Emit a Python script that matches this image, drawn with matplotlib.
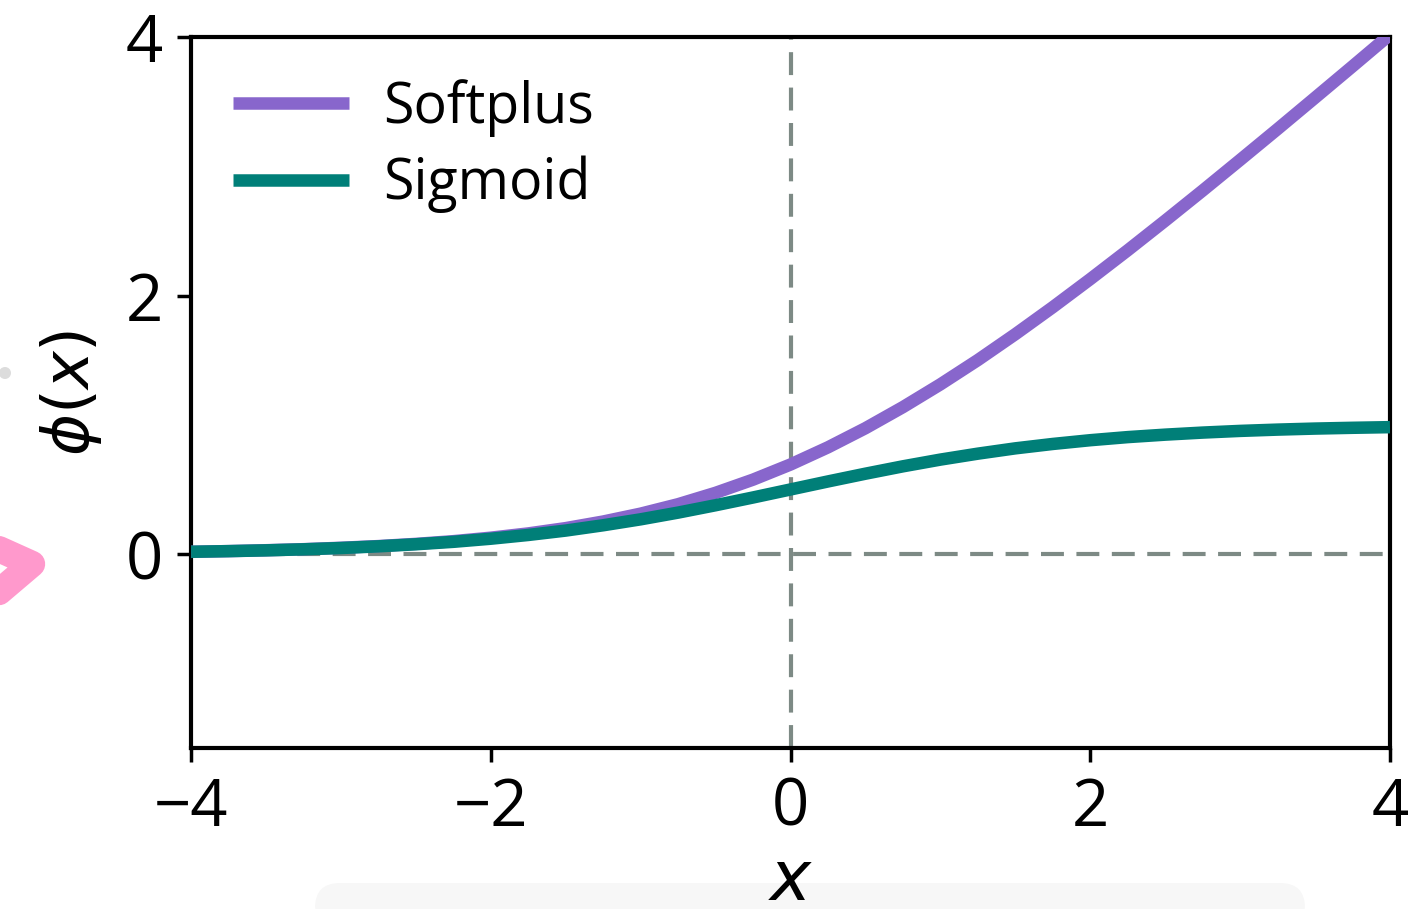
import matplotlib
matplotlib.use("Agg")
import matplotlib.pyplot as plt
from matplotlib.patches import FancyBboxPatch, Circle
from matplotlib.lines import Line2D

plt.rcParams["font.family"] = ["Open Sans", "DejaVu Sans"]
plt.rcParams["mathtext.fontset"] = "dejavusans"

# Sample points along x and the curve values read at them
x_vals = [-4.0, -3.75, -3.5, -3.25, -3.0, -2.75, -2.5, -2.25, -2.0, -1.75,
          -1.5, -1.25, -1.0, -0.75, -0.5, -0.25, 0.0, 0.25, 0.5, 0.75,
          1.0, 1.25, 1.5, 1.75, 2.0, 2.25, 2.5, 2.75, 3.0, 3.25, 3.5, 3.75, 4.0]
softplus_vals = [0.018, 0.023, 0.030, 0.038, 0.049, 0.062, 0.079, 0.100, 0.127,
                 0.160, 0.201, 0.252, 0.313, 0.386, 0.474, 0.576, 0.693, 0.826,
                 0.974, 1.137, 1.313, 1.501, 1.701, 1.910, 2.127, 2.350, 2.579,
                 2.812, 3.049, 3.288, 3.530, 3.773, 4.018]
sigmoid_vals = [0.018, 0.023, 0.029, 0.037, 0.047, 0.060, 0.076, 0.095, 0.119,
                0.148, 0.182, 0.223, 0.269, 0.321, 0.378, 0.438, 0.500, 0.562,
                0.622, 0.679, 0.731, 0.777, 0.818, 0.852, 0.881, 0.905, 0.924,
                0.940, 0.953, 0.963, 0.971, 0.977, 0.982]
series_names = ["Softplus", "Sigmoid"]
series_colors = ["#8866cc", "#007f78"]
x_ticks = [-4, -2, 0, 2, 4]
y_ticks = [0, 2, 4]

fig = plt.figure(figsize=(14.08, 9.09), dpi=100)
ax = fig.add_axes([0.1357, 0.1771, 0.8515, 0.7822])

ref_color = "#7d8a85"
dash = (0, (5.5, 3.0))
ax.axhline(0, color=ref_color, lw=3, linestyle=dash, zorder=1)
ax.axvline(0, color=ref_color, lw=3, linestyle=dash, zorder=1)

for vals, name, col in zip([softplus_vals, sigmoid_vals], series_names, series_colors):
    ax.plot(x_vals, vals, color=col, lw=9, label=name, zorder=3,
            solid_capstyle="butt")

ax.set_xlim(-4, 4)
ax.set_ylim(-1.5, 4)
ax.set_xticks(x_ticks)
ax.set_yticks(y_ticks)
ax.tick_params(labelsize=47, length=10, width=2.5, pad=10)
for s in ax.spines.values():
    s.set_linewidth(3)

ax.set_xlabel(r"$x$", fontsize=50, labelpad=4)
ax.set_ylabel(r"$\phi(x)$", fontsize=46, labelpad=16)

leg = ax.legend(loc="upper left", frameon=False, fontsize=40,
                handlelength=2.1, handletextpad=0.6, labelspacing=0.35,
                borderaxespad=0.35)

# screen overlay decorations around the figure
fig.patches.append(FancyBboxPatch((315, -20), 990, 46,
                                  boxstyle="round,pad=0,rounding_size=25",
                                  transform=None, facecolor="#f7f7f7",
                                  edgecolor="none", figure=fig, zorder=-1))
fig.patches.append(Circle((5, 909 - 373), 6, transform=None,
                          facecolor="#dcdcdc", edgecolor="none", figure=fig))
fig.lines.append(Line2D([-8, 32, -8], [909 - 546, 909 - 564, 909 - 598],
                        transform=None, color="#ff99cc", lw=19,
                        solid_joinstyle="round", solid_capstyle="round",
                        figure=fig))

fig.savefig("out.png", dpi=100)
